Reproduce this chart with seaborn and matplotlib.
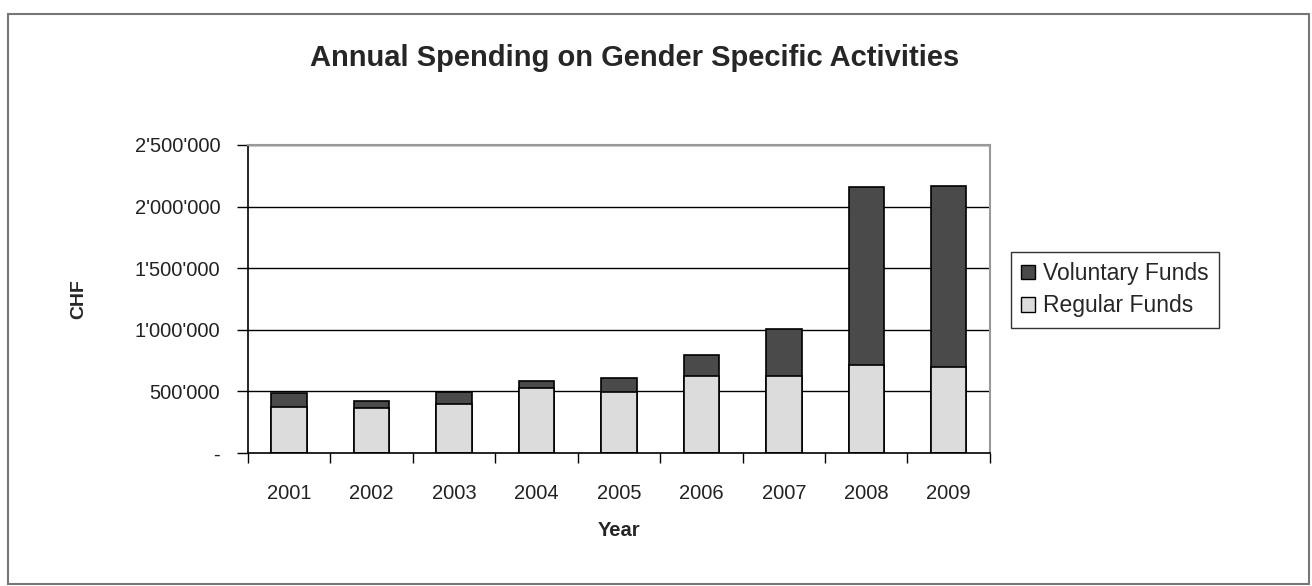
import matplotlib
matplotlib.use("Agg")
import matplotlib.pyplot as plt
import seaborn as sns
import pandas as pd
from matplotlib.patches import Patch, Rectangle
from matplotlib.ticker import FuncFormatter

years = ["2001", "2002", "2003", "2004", "2005", "2006", "2007", "2008", "2009"]
regular_funds = [375000, 367000, 395000, 529000, 497000, 623000, 625000, 716000, 694000]
voluntary_funds = [115000, 55000, 100000, 55000, 108000, 170000, 380000, 1445000, 1470000]
y_ticks = [0, 500000, 1000000, 1500000, 2000000, 2500000]

df = pd.DataFrame({"Year": years, "Regular": regular_funds, "Voluntary": voluntary_funds})
df["Total"] = df["Regular"] + df["Voluntary"]

sns.set_theme(style="white")
plt.rcParams["font.family"] = ["Liberation Sans", "DejaVu Sans"]

fig = plt.figure(figsize=(13.12, 5.86), dpi=100)
ax = fig.add_axes([0.189, 0.227, 0.5655, 0.5256])

dark = "#4a4a4a"
light = "#dcdcdc"
sns.barplot(data=df, x="Year", y="Total", color=dark, saturation=1, width=0.43,
            edgecolor="black", linewidth=1.2, ax=ax)
sns.barplot(data=df, x="Year", y="Regular", color=light, saturation=1, width=0.43,
            edgecolor="black", linewidth=1.2, ax=ax)

ax.set_ylim(0, 2500000)
ax.set_xlim(-0.5, len(years) - 0.5)
ax.set_yticks(y_ticks)

def fmt(v, pos):
    if v == 0:
        return "-"
    return f"{int(v):,}".replace(",", "'")

ax.yaxis.set_major_formatter(FuncFormatter(fmt))
for t in y_ticks[1:]:
    ax.axhline(t, color="black", linewidth=1.0, zorder=0)

ax.set_xticks([i + 0.5 for i in range(-1, len(years))], minor=False)
ax.set_xticklabels([])
ax.set_xticks(range(len(years)), minor=True)
ax.set_xticklabels(years, minor=True)
ax.tick_params(axis="x", which="major", direction="out", length=7, width=1, color="black", bottom=True)
ax.tick_params(axis="x", which="minor", length=0, labelsize=14.5, pad=22, colors="#222222")
ax.tick_params(axis="y", direction="out", length=8, width=1, color="black", left=True,
               labelsize=14.5, pad=12, labelcolor="#222222")

for s in ["left", "bottom"]:
    ax.spines[s].set_color("black")
    ax.spines[s].set_linewidth(1.2)
for s in ["top", "right"]:
    ax.spines[s].set_color("#999999")
    ax.spines[s].set_linewidth(1.5)

ax.set_xlabel("Year", fontsize=14.5, fontweight="bold", labelpad=13)
ax.set_ylabel("CHF", fontsize=14, fontweight="bold", labelpad=34)

fig.text(0.484, 0.901, "Annual Spending on Gender Specific Activities",
         ha="center", va="center", fontsize=21, fontweight="bold")

handles = [Patch(facecolor=dark, edgecolor="black", label="Voluntary Funds"),
           Patch(facecolor=light, edgecolor="black", label="Regular Funds")]
leg = fig.legend(handles=handles, loc="upper left", bbox_to_anchor=(0.7706, 0.570),
                 frameon=True, fancybox=False, edgecolor="black", fontsize=16.5,
                 handlelength=0.6, handleheight=0.6, handletextpad=0.35,
                 borderpad=0.45, labelspacing=0.4, borderaxespad=0)
leg.get_frame().set_linewidth(1.0)

fig.patches.append(Rectangle((8 / 1312, 2 / 586), 1301 / 1312, 570 / 586,
                             transform=fig.transFigure, fill=False,
                             edgecolor="#777777", linewidth=1.5))

fig.savefig("out.png", dpi=100, facecolor="white")
